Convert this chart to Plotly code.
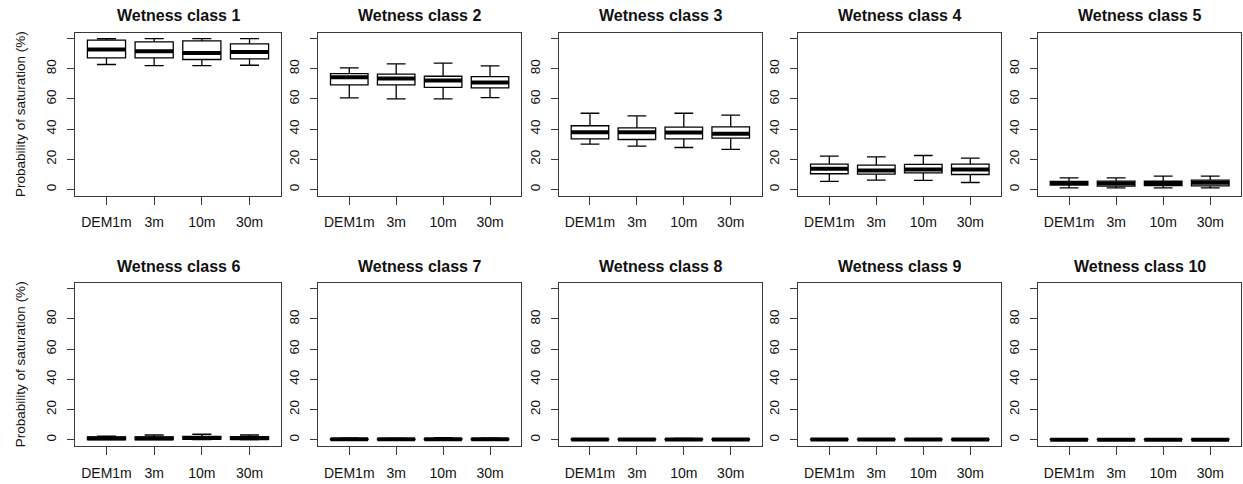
import plotly.graph_objects as go

W, H = 1243, 484

resolutions = ["DEM1m", "3m", "10m", "30m"]
positions = [1, 2, 3, 4]
titles = [f"Wetness class {i}" for i in range(1, 11)]
ytick_vals = [0, 20, 40, 60, 80, 100]
ytick_text = ["0", "20", "40", "60", "80", ""]

# Box statistics per wetness class (lower whisker, Q1, median, Q3, upper whisker),
# one value per DEM resolution
lower_whisker = [
    [82.8, 82.1, 82.1, 82.3],
    [60.7, 60.0, 60.0, 60.9],
    [30.0, 28.7, 27.8, 26.5],
    [5.3, 6.2, 6.0, 4.6],
    [1.1, 1.0, 1.1, 1.1],
    [0.0, 0.0, 0.0, 0.0],
    [0.0, 0.0, 0.0, 0.0],
    [0.0, 0.0, 0.0, 0.0],
    [0.0, 0.0, 0.0, 0.0],
    [0.0, 0.0, 0.0, 0.0],
]
q1 = [
    [87.2, 87.2, 86.1, 86.5],
    [69.3, 69.3, 67.7, 67.3],
    [33.5, 33.1, 33.5, 34.0],
    [10.4, 10.2, 11.0, 9.9],
    [2.9, 2.2, 2.6, 2.4],
    [0.1, 0.1, 0.3, 0.2],
    [0.0, 0.0, 0.0, 0.0],
    [0.0, 0.0, 0.0, 0.0],
    [0.0, 0.0, 0.0, 0.0],
    [0.0, 0.0, 0.0, 0.0],
]
median = [
    [92.7, 91.6, 90.5, 91.1],
    [74.4, 73.5, 72.2, 70.9],
    [37.9, 37.9, 37.7, 36.9],
    [13.7, 12.6, 13.2, 13.2],
    [4.2, 4.0, 4.2, 4.4],
    [0.8, 0.8, 1.1, 0.9],
    [0.2, 0.2, 0.3, 0.2],
    [0.1, 0.1, 0.1, 0.1],
    [0.05, 0.05, 0.05, 0.05],
    [0.02, 0.02, 0.02, 0.02],
]
q3 = [
    [98.9, 97.8, 98.4, 96.5],
    [76.8, 76.4, 75.0, 74.8],
    [42.2, 40.8, 41.3, 41.5],
    [16.8, 16.1, 16.6, 16.8],
    [5.3, 5.5, 5.5, 6.2],
    [1.8, 1.8, 2.2, 2.0],
    [0.5, 0.5, 0.7, 0.5],
    [0.3, 0.3, 0.4, 0.3],
    [0.2, 0.2, 0.2, 0.2],
    [0.1, 0.1, 0.1, 0.1],
]
upper_whisker = [
    [100.0, 100.0, 100.0, 100.0],
    [80.6, 83.2, 83.7, 81.9],
    [50.5, 48.8, 50.5, 49.2],
    [22.1, 21.6, 22.5, 20.8],
    [7.7, 7.7, 8.8, 8.8],
    [2.4, 3.1, 3.6, 3.1],
    [1.0, 0.9, 1.4, 1.0],
    [0.6, 0.6, 0.8, 0.6],
    [0.4, 0.4, 0.4, 0.4],
    [0.2, 0.2, 0.2, 0.2],
]

# Plot-area placement in pixels: (left, right) per column, (top, bottom) per row
col_px = [(75, 281), (318.3, 521), (559, 761.7), (798.3, 1001.3), (1038, 1241.3)]
row_px = [(32.5, 195.5), (282.7, 445.7)]
title_y_px = [15.7, 266]

BOX_W = 0.8
FONT = "Liberation Sans, Arial, sans-serif"
AX_COL = "#3a3a3a"

fig = go.Figure()
layout = dict(
    width=W, height=H, margin=dict(l=0, r=0, t=0, b=0),
    paper_bgcolor="white", plot_bgcolor="white", showlegend=False,
    font=dict(family=FONT, size=13, color="#111"),
    annotations=[],
)

for k in range(10):
    r, c = divmod(k, 5)
    ax = "" if k == 0 else str(k + 1)
    xname, yname = "x" + ax, "y" + ax
    x0, x1 = col_px[c]
    y0, y1 = row_px[r]

    layout["xaxis" + ax] = dict(
        domain=[x0 / W, x1 / W], range=[0.34, 4.66], anchor=yname,
        tickvals=positions, ticktext=resolutions, ticks="outside", ticklen=8,
        tickwidth=1, tickcolor=AX_COL, showgrid=False, zeroline=False,
        showline=True, mirror=True, linecolor=AX_COL, linewidth=1,
        tickfont=dict(size=14, color="#111"), ticklabelstandoff=6,
    )
    layout["yaxis" + ax] = dict(
        domain=[1 - y1 / H, 1 - y0 / H], range=[-4, 104], anchor=xname,
        tickvals=ytick_vals, ticktext=ytick_text, ticks="outside", ticklen=7,
        tickwidth=1, tickcolor=AX_COL, tickangle=-90, showgrid=False,
        zeroline=False, showline=True, mirror=True, linecolor=AX_COL,
        linewidth=1, tickfont=dict(size=13.5, color="#111"), ticklabelstandoff=6,
    )

    fig.add_trace(go.Box(
        x=positions, q1=q1[k], median=median[k], q3=q3[k],
        lowerfence=lower_whisker[k], upperfence=upper_whisker[k],
        width=BOX_W, whiskerwidth=0.5, fillcolor="white",
        line=dict(color="black", width=1.3), boxpoints=False,
        xaxis=xname, yaxis=yname, hoverinfo="skip",
    ))

    # heavy median bars
    mx, my = [], []
    for p, m in zip(positions, median[k]):
        mx += [p - BOX_W / 2, p + BOX_W / 2, None]
        my += [m, m, None]
    fig.add_trace(go.Scatter(
        x=mx, y=my, mode="lines", line=dict(color="black", width=4),
        xaxis=xname, yaxis=yname, hoverinfo="skip",
    ))

    layout["annotations"].append(dict(
        text="<b>" + titles[k] + "</b>", xref="paper", yref="paper",
        x=(x0 + x1) / 2 / W, y=1 - title_y_px[r] / H, showarrow=False,
        xanchor="center", yanchor="middle", font=dict(size=16, color="#111"),
    ))

for r in range(2):
    y0, y1 = row_px[r]
    layout["annotations"].append(dict(
        text="Probability of saturation (%)", xref="paper", yref="paper",
        x=20 / W, y=1 - (y0 + y1) / 2 / H, showarrow=False, textangle=-90,
        xanchor="center", yanchor="middle", font=dict(size=13.5, color="#111"),
    ))

fig.update_layout(**layout)
fig.write_html("out.html")
